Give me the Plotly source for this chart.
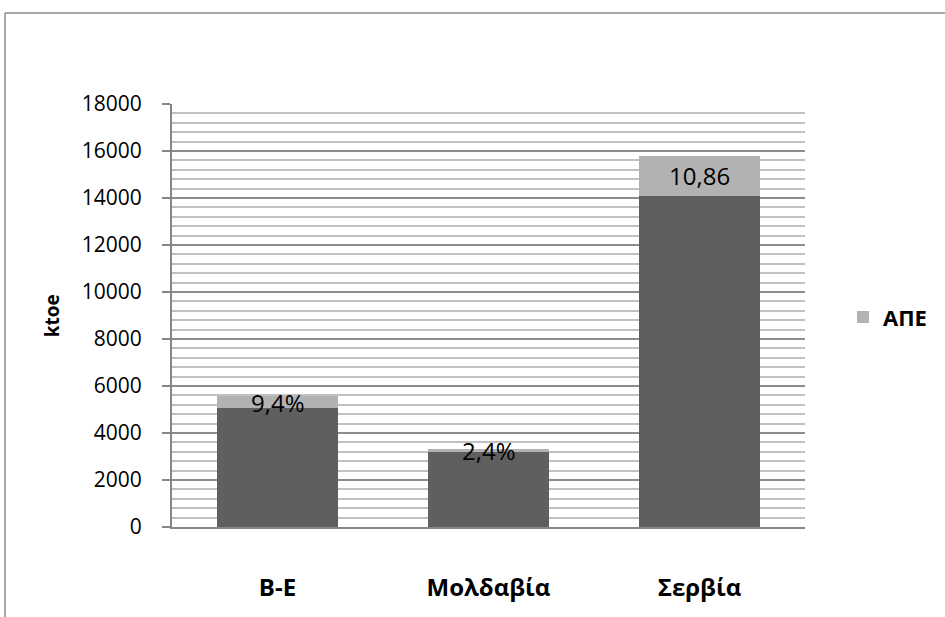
import plotly.graph_objects as go

categories = ["Β-Ε", "Μολδαβία", "Σερβία"]
other_values = [5055, 3221, 14084]
res_values = [525, 79, 1716]
res_labels = ["9,4%", "2,4%", "10,86"]
y_ticks = [0, 2000, 4000, 6000, 8000, 10000, 12000, 14000, 16000, 18000]
y_ticktext = ["0", "2000", "4000", "6000", "8000", "10000", "12000", "14000", "16000", "18000"]

FONT = "Open Sans"

fig = go.Figure()
fig.add_trace(go.Bar(x=categories, y=other_values, marker=dict(color="#5f5f5f", line=dict(width=0)),
                     showlegend=False, name="other"))
fig.add_trace(go.Bar(x=categories, y=res_values, marker=dict(color="#b2b2b2", line=dict(width=0)),
                     name="ΑΠΕ"))

for c, o, r, lab in zip(categories, other_values, res_values, res_labels):
    fig.add_annotation(x=c, y=o + r / 2, text=lab, showarrow=False, yanchor="middle",
                       font=dict(family=FONT, size=24, color="black"))

fig.add_annotation(xref="paper", yref="paper", x=-0.19, y=0.5, text="ktoe", textangle=-90,
                   showarrow=False, xanchor="center", yanchor="middle",
                   font=dict(family=FONT, size=19, color="black", weight="bold"))

# outer chart frame
fig.add_shape(type="line", xref="paper", yref="paper", x0=-0.2638, x1=1.4, y0=1.215, y1=1.215,
              line=dict(color="#8a8a8a", width=1.5))
fig.add_shape(type="line", xref="paper", yref="paper", x0=-0.2638, x1=-0.2638, y0=1.215, y1=-0.4,
              line=dict(color="#8a8a8a", width=1.5))

fig.update_layout(
    width=945, height=617,
    margin=dict(l=172, r=140, t=104, b=90, autoexpand=False),
    barmode="stack",
    bargap=0.43,
    plot_bgcolor="white",
    paper_bgcolor="white",
    font=dict(family=FONT, color="black"),
    showlegend=True,
    legend=dict(x=1.06, y=0.496, xanchor="left", yanchor="middle",
                font=dict(family=FONT, size=22, color="black", weight="bold"),
                itemwidth=30),
    xaxis=dict(showline=True, linecolor="#868686", linewidth=2, ticks="",
               tickfont=dict(family=FONT, size=24, color="black", weight="bold"),
               ticklabelstandoff=38, automargin=False,
               showgrid=False),
    yaxis=dict(range=[0, 18000], tickvals=y_ticks, ticktext=y_ticktext,
               showline=True, linecolor="#868686", linewidth=2,
               ticks="outside", ticklen=8, tickcolor="#868686", tickwidth=2,
               tickfont=dict(family=FONT, size=21, color="black"),
               ticklabelstandoff=16, automargin=False,
               showgrid=True, gridcolor="#8c8c8c", gridwidth=2,
               minor=dict(dtick=400, showgrid=True, gridcolor="#c0c0c0", gridwidth=2),
               zeroline=False),
)

fig.write_html("out.html", config={"displayModeBar": False},
               post_script="document.body.style.margin='0';document.body.style.overflow='hidden';")
